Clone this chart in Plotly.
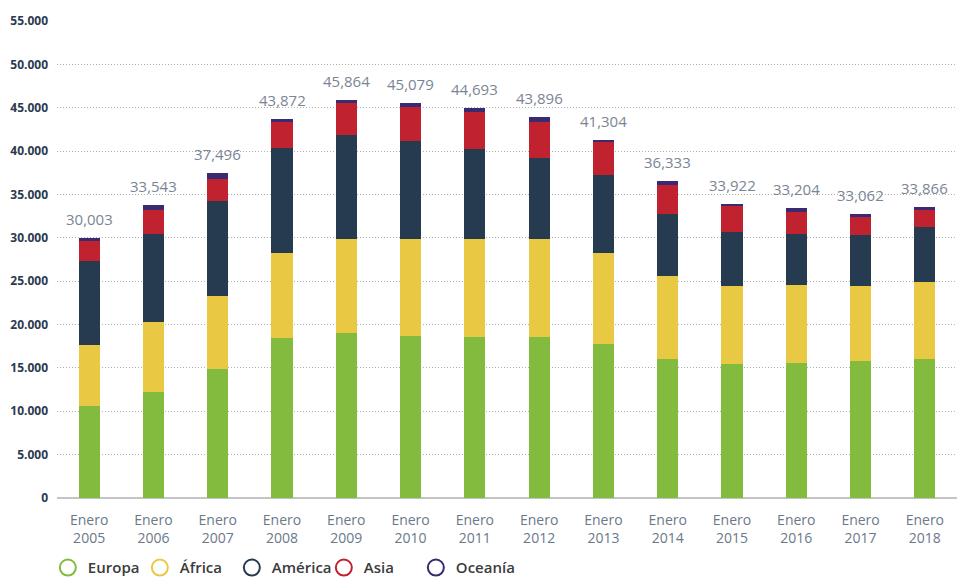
import plotly.graph_objects as go

years = ["2005", "2006", "2007", "2008", "2009", "2010", "2011", "2012", "2013", "2014", "2015", "2016", "2017", "2018"]
categories = ["Enero<br>" + y for y in years]

europa = [10640, 12260, 14900, 18480, 19060, 18700, 18600, 18600, 17700, 16070, 15500, 15600, 15800, 16070]
africa = [7030, 8090, 8400, 9800, 10840, 11200, 11300, 11300, 10600, 9530, 9000, 9000, 8700, 8830]
america = [9690, 10120, 11000, 12120, 12000, 11300, 10300, 9300, 8900, 7200, 6200, 5800, 5850, 6400]
asia = [2240, 2770, 2500, 3000, 3700, 3900, 4350, 4200, 3800, 3300, 3000, 2600, 2050, 1900]
oceania = [400, 560, 700, 300, 300, 400, 450, 500, 300, 400, 200, 400, 400, 400]
total_labels = ["30,003", "33,543", "37,496", "43,872", "45,864", "45,079", "44,693", "43,896", "41,304", "36,333", "33,922", "33,204", "33,062", "33,866"]

series = [
    ("Europa", europa, "#82bb3e"),
    ("África", africa, "#e9c944"),
    ("América", america, "#263b50"),
    ("Asia", asia, "#c0222f"),
    ("Oceanía", oceania, "#3a2a72"),
]

fig = go.Figure()
for name, vals, col in series:
    fig.add_trace(go.Bar(x=categories, y=vals, name=name, marker=dict(color=col, line=dict(width=0)),
                         showlegend=False, hoverinfo="y+name"))
for name, vals, col in series:
    fig.add_trace(go.Scatter(x=[categories[0]], y=[None], mode="markers", name=name,
                             marker=dict(symbol="circle-open", size=18, color=col, line=dict(width=2, color=col))))
# blank spacer entry so the last legend label is not clipped
fig.add_trace(go.Scatter(x=[categories[0]], y=[None], mode="markers", name=" ",
                         marker=dict(symbol="circle-open", size=18, color="rgba(0,0,0,0)",
                                     line=dict(width=0, color="rgba(0,0,0,0)"))))

tops = [sum(v) for v in zip(europa, africa, america, asia, oceania)]
for cat, top, lab in zip(categories, tops, total_labels):
    fig.add_annotation(x=cat, y=top, text=lab, showarrow=False, yanchor="middle", yshift=19,
                       font=dict(family="Open Sans", size=15, color="#7a8594"))

fig.update_layout(
    barmode="stack",
    bargap=0.67,
    width=957, height=577,
    margin=dict(l=57, r=0, t=21, b=79, autoexpand=False),
    paper_bgcolor="white", plot_bgcolor="white",
    separators=",.",
    font=dict(family="Open Sans", color="#2b3a4f"),
    legend=dict(orientation="h", xref="container", yref="container", x=0.05, y=0.016,
                xanchor="left", yanchor="middle", entrywidth=47, traceorder="normal",
                font=dict(family="Open Sans", size=15, color="#3b3b3b", weight=600),
                itemclick=False),
    xaxis=dict(showgrid=False, showline=False, ticks="", zeroline=False, automargin=False,
               range=[-0.5, len(categories) - 0.5], ticklabelstandoff=12,
               tickfont=dict(family="Open Sans", size=14, color="#6b7888")),
    yaxis=dict(range=[0, 55000], dtick=5000, tickformat=",d", showgrid=True, automargin=False,
               gridcolor="#b0b0b0", griddash="1px,2px", gridwidth=1, ticklabelstandoff=8,
               zeroline=True, zerolinecolor="#c4c4c4", zerolinewidth=2,
               tickfont=dict(family="Open Sans", size=12, color="#2b3a4f", weight=700),
               ticks="", showline=False),
)

fig.write_html("out.html", config={"displayModeBar": False},
               post_script="document.body.style.margin='0';document.body.style.overflow='hidden';")
